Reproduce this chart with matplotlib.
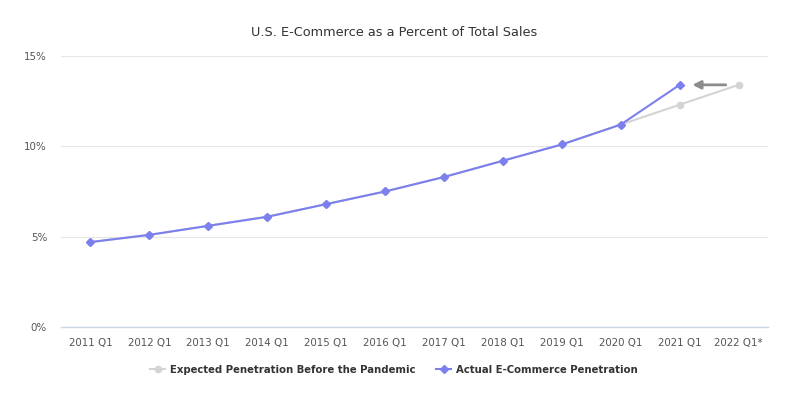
import matplotlib
matplotlib.use("Agg")
import matplotlib.pyplot as plt

categories = ["2011 Q1", "2012 Q1", "2013 Q1", "2014 Q1", "2015 Q1", "2016 Q1",
              "2017 Q1", "2018 Q1", "2019 Q1", "2020 Q1", "2021 Q1", "2022 Q1*"]
expected = [4.7, 5.1, 5.6, 6.1, 6.8, 7.5, 8.3, 9.2, 10.1, 11.2, 12.3, 13.4]
actual = [4.7, 5.1, 5.6, 6.1, 6.8, 7.5, 8.3, 9.2, 10.1, 11.2, 13.4]
yticks = [0, 5, 10, 15]
ytick_labels = ["0%", "5%", "10%", "15%"]

fig = plt.figure(figsize=(7.88, 3.94), dpi=100)
ax = fig.add_axes([0.0774, 0.170, 0.8972, 0.688])

x_exp = list(range(len(expected)))
x_act = list(range(len(actual)))
ax.plot(x_exp, expected, color="#d4d4d4", lw=1.5, marker="o", ms=4.5,
        label="Expected Penetration Before the Pandemic", zorder=2)
ax.plot(x_act, actual, color="#7b80ee", lw=1.5, marker="D", ms=3.6,
        label="Actual E-Commerce Penetration", zorder=3)

ax.annotate("", xy=(len(actual) - 1 + 0.17, actual[-1]),
            xytext=(len(expected) - 1 - 0.17, actual[-1]),
            arrowprops=dict(arrowstyle="-|>", color="#8c8c8c", lw=2,
                            mutation_scale=12))

ax.set_xlim(-0.5, len(categories) - 0.5)
ax.set_ylim(0, 15)
ax.set_xticks(range(len(categories)))
ax.set_xticklabels(categories)
ax.set_yticks(yticks)
ax.set_yticklabels(ytick_labels)
ax.tick_params(axis="both", length=0, labelsize=7.4, colors="#555555")
ax.tick_params(axis="x", pad=8)
ax.tick_params(axis="y", pad=10)
ax.grid(axis="y", color="#e6e6e6", lw=0.8)
ax.set_axisbelow(True)
for s in ["top", "right", "left"]:
    ax.spines[s].set_visible(False)
ax.spines["bottom"].set_color("#ccd6eb")
ax.spines["bottom"].set_linewidth(1)

fig.suptitle("U.S. E-Commerce as a Percent of Total Sales", y=0.935,
             fontsize=9.3, color="#333333", fontweight="medium")

leg = fig.legend(loc="center", bbox_to_anchor=(0.5, 0.062), ncol=2,
                 frameon=False, fontsize=7.3, handlelength=1.5,
                 columnspacing=2.0, handletextpad=0.5)
for t in leg.get_texts():
    t.set_fontweight("bold")
    t.set_color("#333333")

fig.savefig("out.png", dpi=100)
